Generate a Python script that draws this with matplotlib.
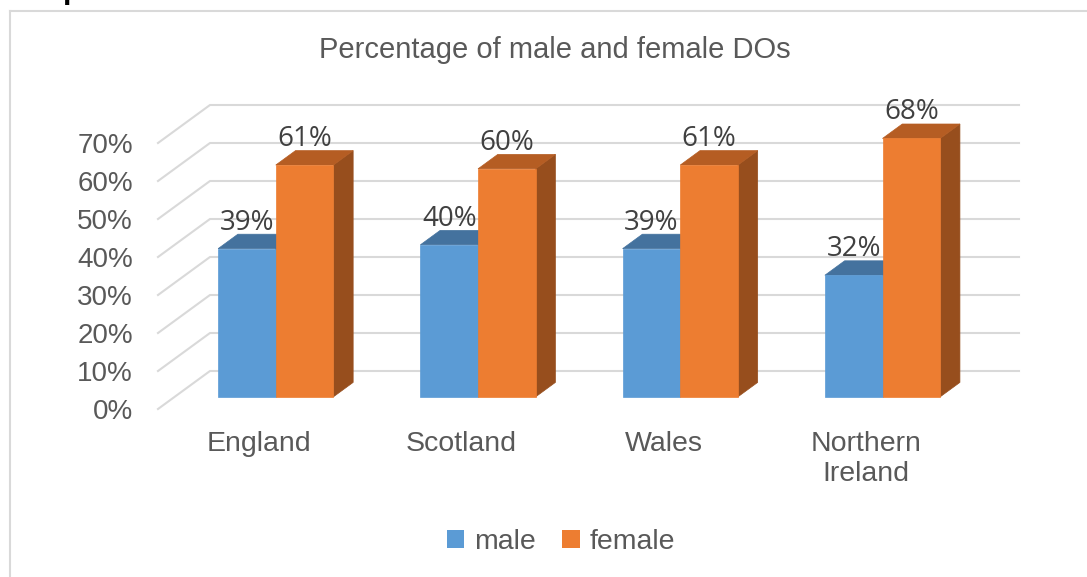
import matplotlib.pyplot as plt
from matplotlib.patches import Polygon, Patch
from matplotlib.lines import Line2D

categories = ['England', 'Scotland', 'Wales', 'Northern\nIreland']
male = [39, 40, 39, 32]
female = [61, 60, 61, 68]
series_names = ['male', 'female']
y_ticks = [0, 10, 20, 30, 40, 50, 60, 70]
title = 'Percentage of male and female DOs'

# face colours: front, top, side
male_cols = ('#5B9BD5', '#44729E', '#3A6590')
female_cols = ('#ED7D31', '#B55D23', '#974E1D')

W, H = 1087, 577
plt.rcParams['font.family'] = ['Liberation Sans', 'DejaVu Sans']

fig = plt.figure(figsize=(W / 100, H / 100), dpi=100)
ax = fig.add_axes([158 / W, 1 - 409 / H, 861 / W, 304 / H])

# oblique "3d" look: floor depth in data units
depth_x, depth_y = 0.257, 10
bar_w = 0.285
front_frac, bar_frac = 0.32, 0.38
ox, oy = front_frac * depth_x, front_frac * depth_y
bx, by = bar_frac * depth_x, bar_frac * depth_y

ax.set_xlim(-0.5, len(categories) - 0.5 + depth_x)
ax.set_ylim(0, y_ticks[-1] + depth_y)

grid_col = '#D9D9D9'
for v in y_ticks:
  ax.plot([-0.5, -0.5 + depth_x, len(categories) - 0.5 + depth_x],
          [v, v + depth_y, v + depth_y],
          color=grid_col, lw=1.5, zorder=1, clip_on=False)


def bar3d(x0, h, cols):
  fx0, fx1 = x0 + ox, x0 + bar_w + ox
  fy0, fy1 = oy, h + oy
  front = [(fx0, fy0), (fx1, fy0), (fx1, fy1), (fx0, fy1)]
  top = [(fx0, fy1), (fx1, fy1), (fx1 + bx, fy1 + by), (fx0 + bx, fy1 + by)]
  side = [(fx1, fy0), (fx1 + bx, fy0 + by), (fx1 + bx, fy1 + by), (fx1, fy1)]
  for pts, c in zip([side, top, front], [cols[2], cols[1], cols[0]]):
    ax.add_patch(Polygon(pts, closed=True, facecolor=c, edgecolor=c,
                         lw=0.5, zorder=3))


for i in range(len(categories)):
  for j, (vals, cols) in enumerate([(male, male_cols), (female, female_cols)]):
    x0 = i - bar_w + j * bar_w
    bar3d(x0, vals[i], cols)
    ax.text(x0 + bar_w / 2 + ox, vals[i] + oy + by + 1.2, f'{vals[i]}%',
            ha='center', va='baseline', fontsize=20, color='#404040',
            family=['Open Sans', 'DejaVu Sans'], zorder=5)

ax.set_yticks(y_ticks)
ax.set_yticklabels([f'{v}%' for v in y_ticks])
ax.set_xticks(range(len(categories)))
ax.set_xticklabels(categories)
ax.tick_params(axis='y', length=0, pad=18, labelsize=20, labelcolor='#595959')
ax.tick_params(axis='x', length=0, pad=16, labelsize=20.5, labelcolor='#595959')
for s in ax.spines.values():
  s.set_visible(False)
ax.patch.set_alpha(0)

fig.text(555 / W, 1 - 50 / H, title, ha='center', va='center',
         fontsize=21, color='#595959')

handles = [Patch(facecolor=male_cols[0], edgecolor='none'),
           Patch(facecolor=female_cols[0], edgecolor='none')]
leg = fig.legend(handles, series_names, loc='center', ncol=2, frameon=False,
                 bbox_to_anchor=(561 / W, 1 - 542 / H), fontsize=20.5,
                 handlelength=0.62, handleheight=0.62, handletextpad=0.36,
                 columnspacing=0.9, labelcolor='#595959')

# chart border (top and left edges visible)
fig.add_artist(Line2D([10 / W, 1], [1 - 11 / H, 1 - 11 / H],
                      transform=fig.transFigure, color=grid_col, lw=1.5))
fig.add_artist(Line2D([10 / W, 10 / W], [0, 1 - 11 / H],
                      transform=fig.transFigure, color=grid_col, lw=1.5))

# descender of the heading text above the chart
fig.text(63 / W, 1 + 2 / H, 'p', ha='left', va='baseline', fontsize=22,
         fontweight='bold', color='black')

fig.savefig('out.png', dpi=100, facecolor='white')
